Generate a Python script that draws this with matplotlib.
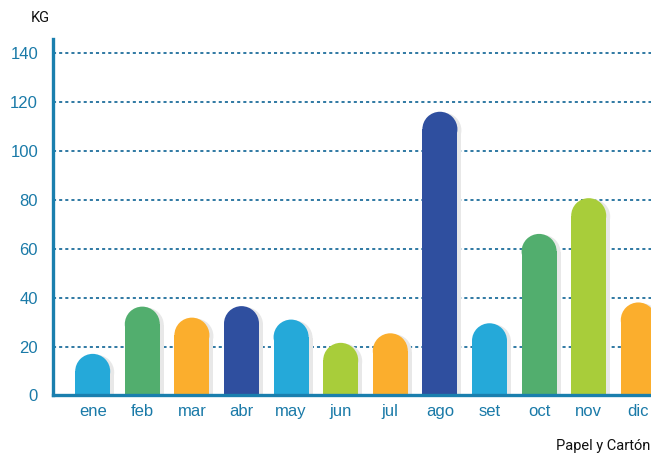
import matplotlib.pyplot as plt
from matplotlib.patches import Ellipse, Rectangle
import numpy as np

months = ['ene', 'feb', 'mar', 'abr', 'may', 'jun', 'jul', 'ago', 'set', 'oct', 'nov', 'dic']
kg = [17, 36.3, 31.8, 36.5, 31, 21.5, 25.4, 115.9, 29.5, 66, 80.6, 38]
colors = ['#25a9d9', '#52ae6e', '#fbae2d', '#2f4f9f', '#25a9d9', '#a8cd3a',
          '#fbae2d', '#2f4f9f', '#25a9d9', '#52ae6e', '#a8cd3a', '#fbae2d']
yticks = [0, 20, 40, 60, 80, 100, 120, 140]

blue = '#1a7aa8'
fig = plt.figure(figsize=(6.51, 4.54), dpi=100)
ax = fig.add_axes([0.0819, 0.1289, 0.9181, 0.7851])
ax.set_xlim(-0.794, 11.256)
ax.set_ylim(0, 145.6)

# pixel -> data conversion for circular caps
px_x = 11.256 + 0.794
px_x = px_x / (0.9181 * 651)
px_y = 145.6 / (0.7851 * 454)
width = 35 * px_x
r_y = (35 / 2) * px_y
sh_dx = 4 * px_x
sh_dy = 1 * px_y

for yv in yticks[1:]:
    ax.axhline(yv, color='#1f6e9c', lw=1.3, linestyle=(0, (1.7, 1.7)), zorder=1)

x = np.arange(len(months))
for xi, v, c in zip(x, kg, colors):
    # shadow
    ax.add_patch(Rectangle((xi - width / 2 + sh_dx, 0), width, v - r_y - sh_dy,
                           color='#e8e8e8', lw=0, zorder=2))
    ax.add_patch(Ellipse((xi + sh_dx, v - r_y - sh_dy), width, 2 * r_y,
                         color='#e8e8e8', lw=0, zorder=2))
    # bar
    ax.bar(xi, v - r_y, width=width, color=c, lw=0, zorder=3)
    ax.add_patch(Ellipse((xi, v - r_y), width, 2 * r_y, color=c, lw=0, zorder=3))

ax.set_xticks(x)
ax.set_xticklabels(months)
ax.set_yticks(yticks)
ax.tick_params(axis='both', length=0, colors=blue, labelsize=12,
               labelfontfamily='Liberation Sans')
ax.tick_params(axis='y', pad=11)
ax.tick_params(axis='x', pad=6)

for s in ['top', 'right']:
    ax.spines[s].set_visible(False)
for s in ['left', 'bottom']:
    ax.spines[s].set_color('#1a7fae')
    ax.spines[s].set_linewidth(2.4)
    ax.spines[s].set_zorder(4)

fig.text(40 / 651, 1 - 18 / 454, 'KG', ha='center', va='center', fontsize=10.5,
         family=['Roboto'], color='#111111')
fig.text(650 / 651, 1 - 446 / 454, 'Papel y Cartón', ha='right', va='center',
         fontsize=10.5, family=['Roboto'], color='#111111')

fig.savefig('out.png', dpi=100)
